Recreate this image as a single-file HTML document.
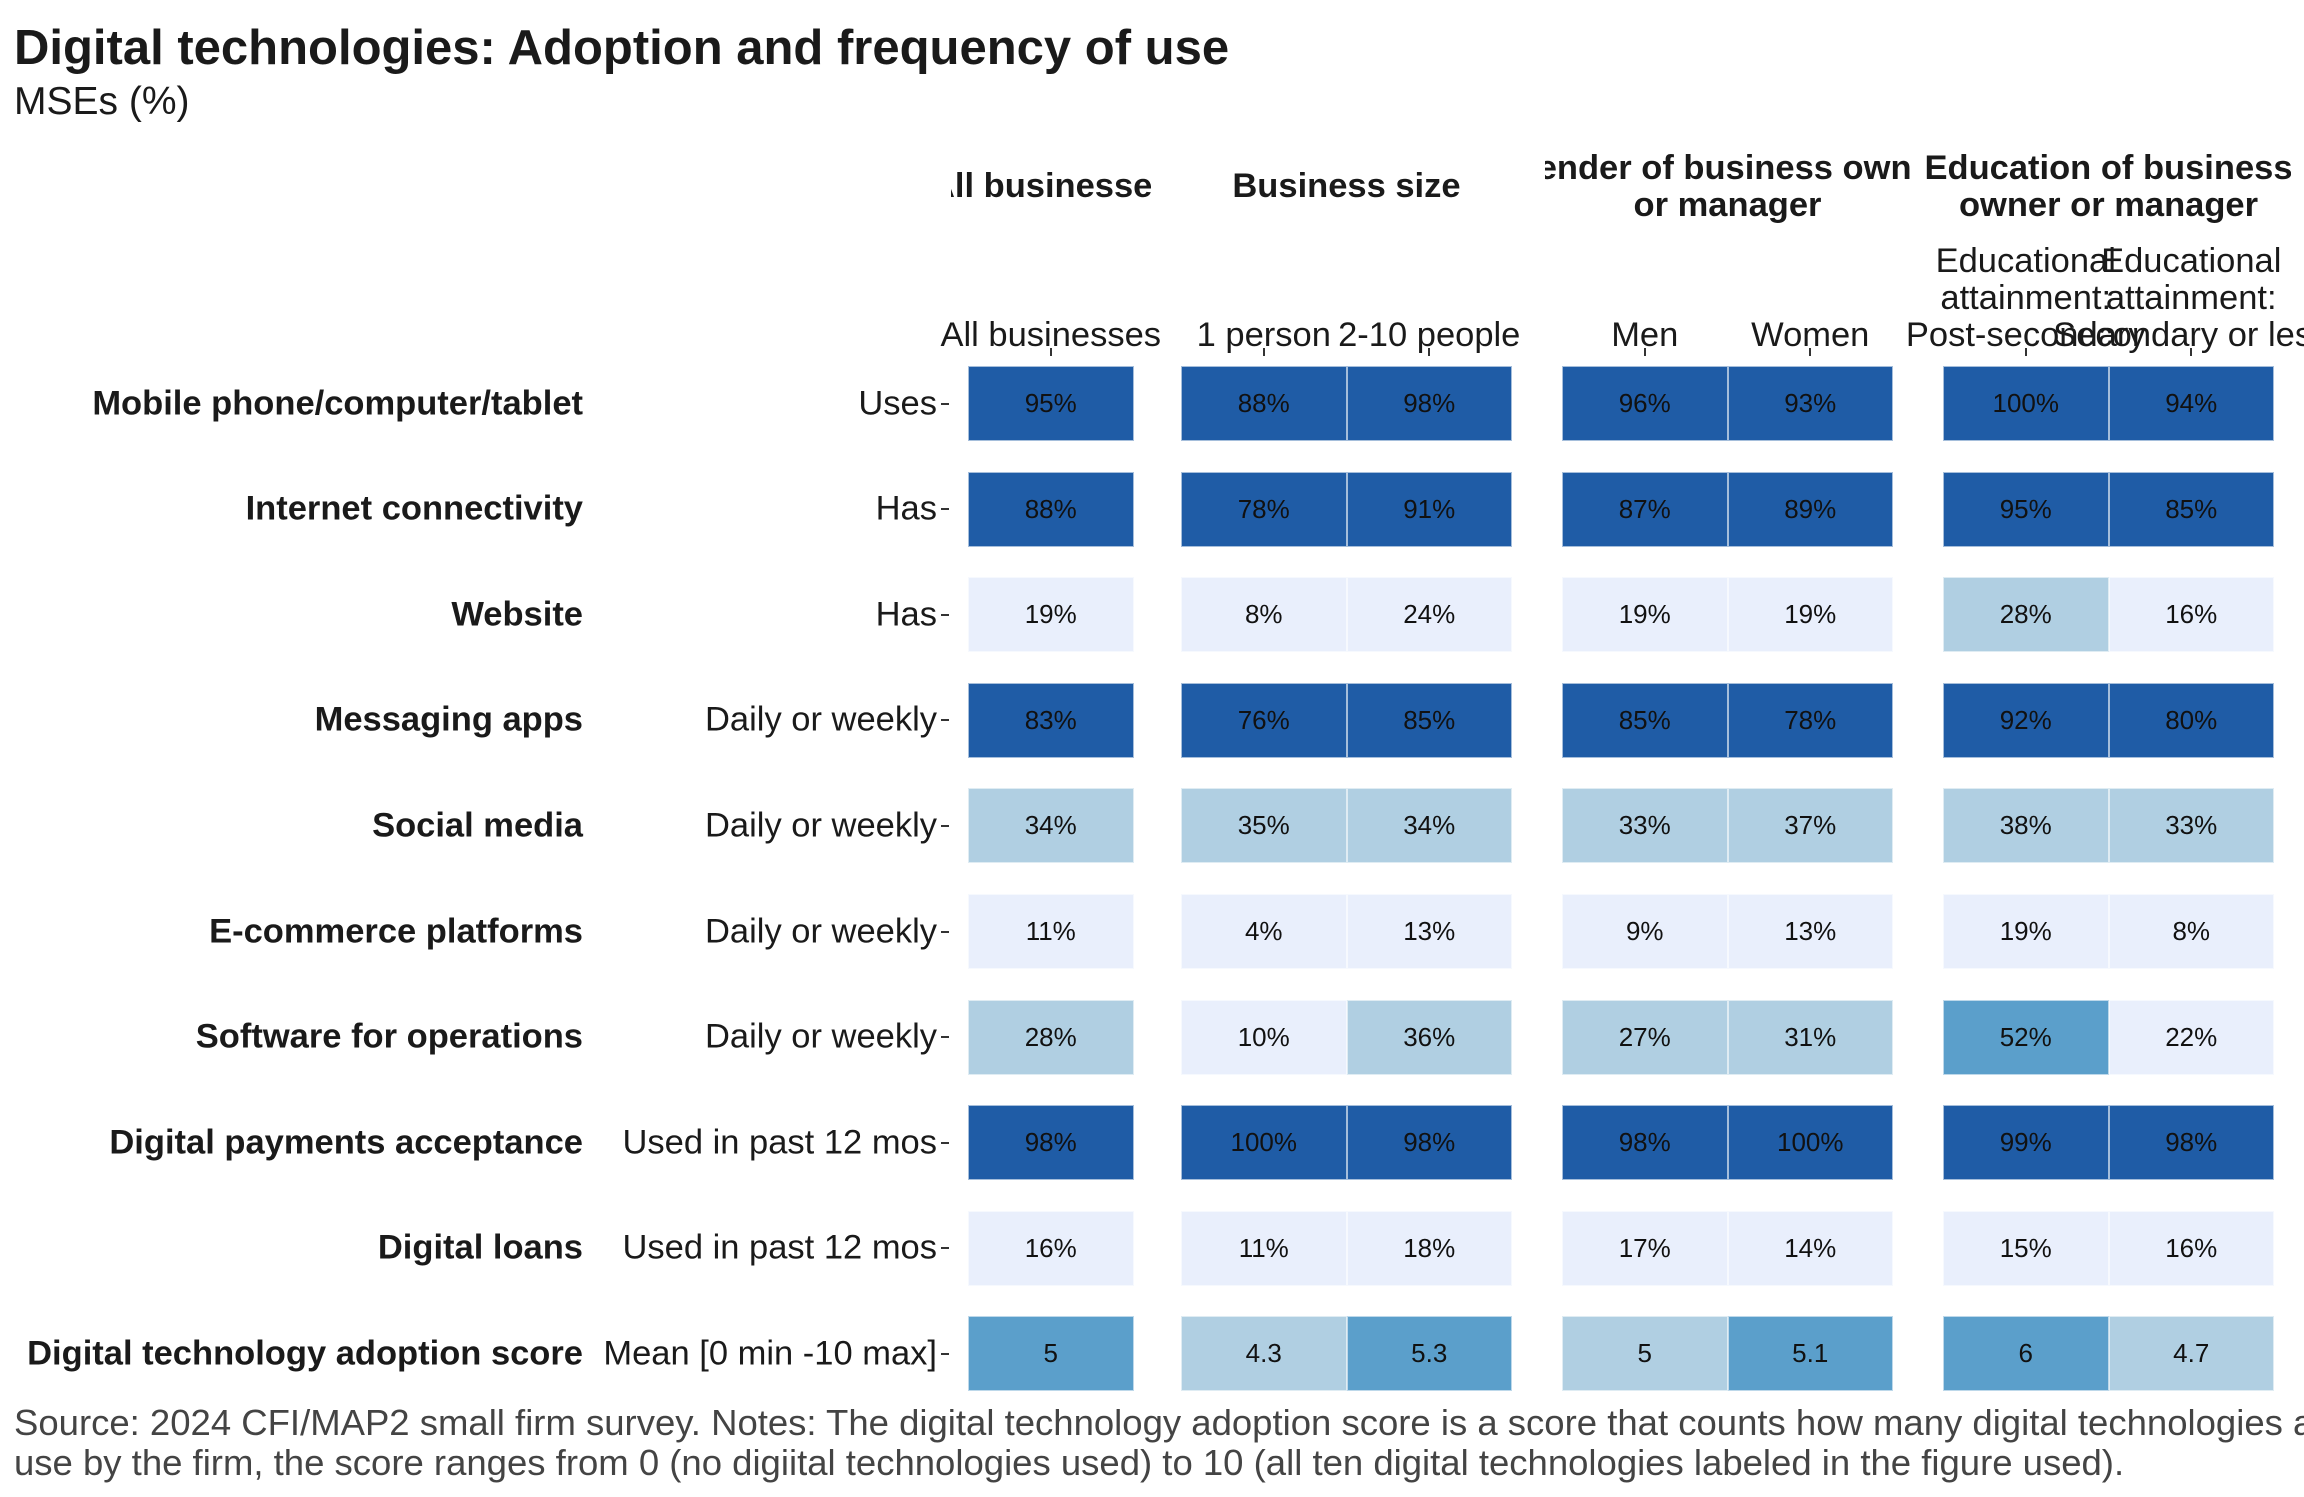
<!DOCTYPE html>
<html><head><meta charset="utf-8">
<style>
body{margin:0;width:2304px;height:1497px;background:#fff;position:relative;overflow:hidden;font-family:"Liberation Sans",Arial,sans-serif;color:#1a1a1a}
.a{position:absolute}
.cell{position:absolute;display:flex;align-items:center;justify-content:center;font-size:26px;color:#111;box-sizing:border-box;border:1px solid rgba(255,255,255,0.6)}
.hdr{position:absolute;display:flex;justify-content:center;align-items:flex-end;overflow:hidden;white-space:nowrap;font-weight:bold;font-size:34.5px;text-align:center}
.clab{position:absolute;text-align:center;font-size:34.5px;line-height:37px;white-space:nowrap;transform:translateX(-50%)}
.rl{position:absolute;right:0;font-weight:bold;font-size:34.5px;white-space:nowrap;transform:translateY(-50%)}
.sl{position:absolute;font-size:34.5px;white-space:nowrap;transform:translateY(-50%)}
.tk{position:absolute;background:#333}
</style></head>
<body>
<div class="a" style="left:14px;top:20px;font-size:49px;font-weight:bold">Digital technologies: Adoption and frequency of use</div>
<div class="a" style="left:14px;top:80px;font-size:39px">MSEs (%)</div>
<div id="chart"></div>
<div class="a" style="left:14px;top:1403px;font-size:36.5px;line-height:40px;color:#444;white-space:nowrap">Source: 2024 CFI/MAP2 small firm survey. Notes: The digital technology adoption score is a score that counts how many digital technologies a<br>use by the firm, the score ranges from 0 (no digiital technologies used) to 10 (all ten digital technologies labeled in the figure used).</div>
<script>
const rowLabels=["Mobile phone/computer/tablet","Internet connectivity","Website","Messaging apps","Social media","E-commerce platforms","Software for operations","Digital payments acceptance","Digital loans","Digital technology adoption score"];
const rowSub=["Uses","Has","Has","Daily or weekly","Daily or weekly","Daily or weekly","Daily or weekly","Used in past 12 mos","Used in past 12 mos","Mean [0 min -10 max]"];
const panels=["All businesses","Business size","Gender of business owner or manager","Education of business owner or manager"];
const panelLines=[["All businesses"],["Business size"],["Gender of business owner","or manager"],["Education of business","owner or manager"]];
const columns=[["All businesses"],["1 person"],["2-10 people"],["Men"],["Women"],["Educational","attainment:","Post-secondary"],["Educational","attainment:","Secondary or less"]];
const colPanel=[0,1,1,2,2,3,3];
const v_all=[95,88,19,83,34,11,28,98,16,5.02];
const v_one=[88,78,8,76,35,4,10,100,11,4.3];
const v_two=[98,91,24,85,34,13,36,98,18,5.3];
const v_men=[96,87,19,85,33,9,27,98,17,4.97];
const v_women=[93,89,19,78,37,13,31,100,14,5.1];
const v_post=[100,95,28,92,38,19,52,99,15,6];
const v_sec=[94,85,16,80,33,8,22,98,16,4.7];
const series=[v_all,v_one,v_two,v_men,v_women,v_post,v_sec];

const root=document.getElementById('chart');
const cellW=165.5, cellH=75;
const rowTop0=366, rowStep=105.6;
const pStart=[968,1181,1562,1943];
function cx(c){const p=colPanel[c];let idx=0;for(let k=0;k<c;k++)if(colPanel[k]===p)idx++;return pStart[p]+idx*cellW;}
function ry(r){return rowTop0+r*rowStep;}
function color(v,isScore){const p=isScore?v*10:v;if(p>=75)return'#1f5ca6';if(p>=50)return'#5b9fcb';if(p>=25)return'#b0cfe2';return'#e9effc';}
function fmt(v,isScore){return isScore?String(Number(v.toFixed(1))):v+'%';}

panels.forEach((p,i)=>{
  const d=document.createElement('div');d.className='hdr';
  
  
  const w=(i===0?cellW:2*cellW)+34;
  d.style.left=(pStart[i]-17)+'px';d.style.width=w+'px';
  d.style.top='146px';d.style.height='82px';
  if(panelLines[i].length===1){d.style.top='164px';d.style.height='44px';}
  d.style.flexDirection='column';d.style.alignItems='center';d.style.lineHeight='37px';
  panelLines[i].forEach(t=>{const s=document.createElement('div');s.textContent=t;s.style.whiteSpace='nowrap';d.appendChild(s);});
  root.appendChild(d);
});
columns.forEach((lines,c)=>{
  const d=document.createElement('div');d.className='clab';
  
  
  d.style.left=(cx(c)+cellW/2)+'px';
  d.style.top=(354-lines.length*37)+'px';
  d.innerHTML=lines.join('<br>');
  root.appendChild(d);
  const t=document.createElement('div');t.className='tk';
  
  
  t.style.left=(cx(c)+cellW/2-1)+'px';t.style.top='348px';t.style.width='2px';t.style.height='8px';
  root.appendChild(t);
});
rowLabels.forEach((lab,r)=>{
  const cy=ry(r)+cellH/2;
  const a=document.createElement('div');a.className='rl';
  
  
  a.style.right=(2304-583)+'px';a.style.top=cy+'px';a.textContent=lab;root.appendChild(a);
  const b=document.createElement('div');b.className='sl';
  
  
  b.style.right=(2304-937)+'px';b.style.top=cy+'px';b.textContent=rowSub[r];root.appendChild(b);
  const t=document.createElement('div');t.className='tk';
  
  
  t.style.left='941px';t.style.top=(cy-1)+'px';t.style.width='8px';t.style.height='2px';root.appendChild(t);
  series.forEach((s,c)=>{
    const isScore=r===rowLabels.length-1;
    const d=document.createElement('div');d.className='cell';
    
    
    d.style.left=cx(c)+'px';d.style.top=ry(r)+'px';d.style.width=cellW+'px';d.style.height=cellH+'px';
    d.style.background=color(s[r],isScore);d.textContent=fmt(s[r],isScore);
    root.appendChild(d);
  });
});
</script>
</body></html>
